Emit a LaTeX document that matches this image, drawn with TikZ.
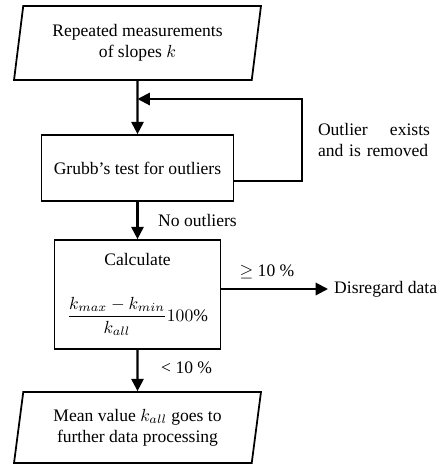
\documentclass[tikz,border=0pt]{standalone}
\usepackage{fontspec}
\setmainfont{Liberation Serif}
\usetikzlibrary{shapes.geometric,arrows.meta}

\tikzset{
  databox/.style={draw, line width=1pt, trapezium, trapezium left angle=76,
    trapezium right angle=104, trapezium stretches body, minimum width=4.94cm,
    minimum height=1.48cm, align=center, inner sep=0pt},
  procbox/.style={draw, line width=1pt, rectangle, align=center},
  flow/.style={line width=1.2pt, -{Triangle[length=7pt,width=7pt]}}
}

\begin{document}
\begin{tikzpicture}[x=0.02cm,y=-0.02cm]
      \useasboundingbox (0,0) rectangle (441,464);
      \node[databox] (meas) at (137.5,43) {Repeated measurements\\of slopes $k$};
      \node[procbox, minimum width=3.84cm, minimum height=1.32cm] (grubb) at (137.5,168) {Grubb's test for outliers};
      \node[procbox, minimum width=3.32cm, minimum height=2.18cm] (calc) at (137.5,294.5)
        {Calculate\\[17pt]$\displaystyle\frac{k_{max}-k_{min}}{k_{all}}100\%$};
      \node[databox, minimum height=1.42cm] (final) at (137.5,427.5) {Mean value $k_{all}$ goes to\\further data processing};

      % loop back
      \coordinate (fbr) at (302,181);
      \coordinate (fbt) at (302,99);
      \draw[flow] (grubb.east |- fbr) -- (fbr) -- (fbt) -- (meas.south |- fbt);
      \node[text width=2.24cm, align=left, inner sep=0pt] (outl) at (374,140) {Outlier\hfill exists\\and is removed};

      \draw[flow] (meas.south) -- (grubb.north);
      \draw[flow] (grubb.south) -- (calc.north);
      \node[anchor=west] (nout) at (152,220) {No outliers};

      \node[anchor=west] (disc) at (328,289) {Disregard data};
      \draw[flow] (calc.east |- disc) -- (disc.west);
      \node (ge) at (267,272) {$\geq$ 10 \%};

      \draw[flow] (calc.south) -- (final.north);
      \node[anchor=west] (lt) at (155,368) {< 10 \%};
    \end{tikzpicture}
\end{document}
